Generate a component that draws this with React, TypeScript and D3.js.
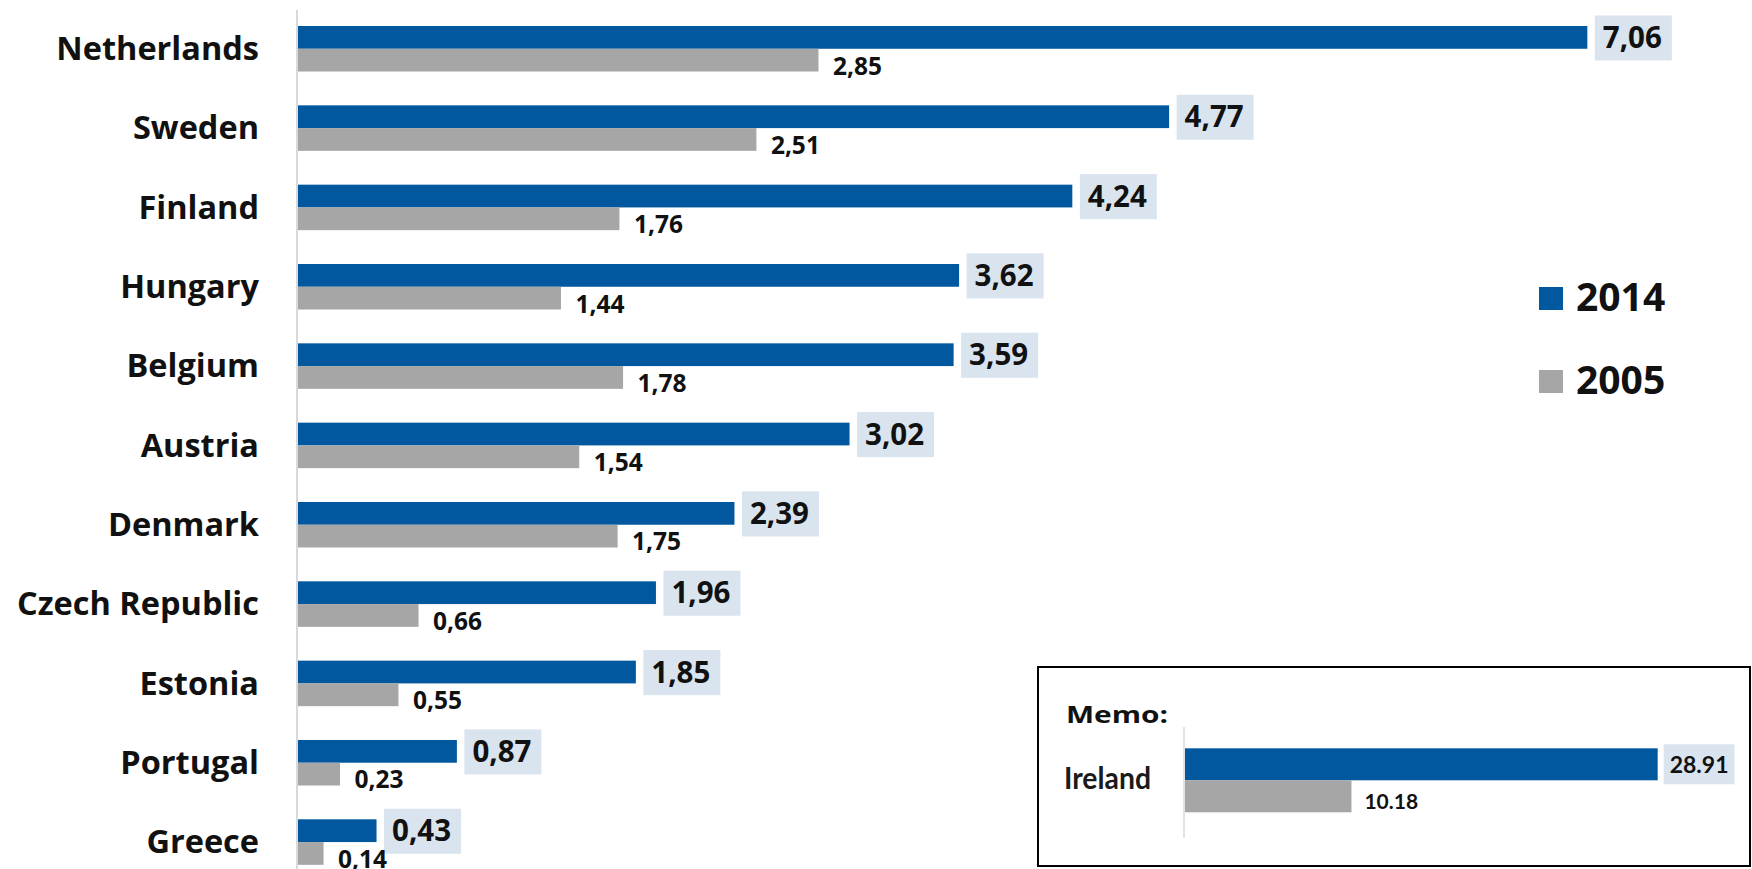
import React, { useEffect, useRef } from "react";
import * as d3 from "d3";

const categories = ["Netherlands", "Sweden", "Finland", "Hungary", "Belgium", "Austria", "Denmark", "Czech Republic", "Estonia", "Portugal", "Greece"];
const values2014 = [7.06, 4.77, 4.24, 3.62, 3.59, 3.02, 2.39, 1.96, 1.85, 0.87, 0.43];
const values2005 = [2.85, 2.51, 1.76, 1.44, 1.78, 1.54, 1.75, 0.66, 0.55, 0.23, 0.14];
const seriesNames = ["2014", "2005"];

const memoCategories = ["Ireland"];
const memo2014 = [28.91];
const memo2005 = [10.18];

const W = 1752;
const H = 869;
const BLUE = "#02589e";
const GRAY = "#a6a6a6";
const BOX = "#dae4ef";
const AXIS = "#d9d9d9";
const TXT = "#111111";
const MAIN_FONT = "'Open Sans', 'Noto Sans', sans-serif";
const MEMO_FONT = "Lato, 'Open Sans', sans-serif";

const commaFmt = d3.formatLocale({ decimal: ",", thousands: ".", grouping: [3], currency: ["", ""] }).format(".2f");
const dotFmt = d3.format(".2f");

export default function App() {
  const ref = useRef<SVGSVGElement | null>(null);

  useEffect(() => {
    const svg = d3.select(ref.current);
    svg.selectAll("*").remove();

    // ---------- main chart ----------
    const x = d3.scaleLinear().domain([0, 8]).range([298, 1759]);
    const pi = 0.4264;
    const y = d3.scaleBand<string>().domain(categories).range([9.1, 9.1 + 11 * 79.33]).paddingInner(pi).paddingOuter(pi / 2);
    const sub = d3.scaleBand<string>().domain(seriesNames).range([0, y.bandwidth()]);

    const rows = categories.map((c, i) => ({ c, v14: values2014[i], v05: values2005[i] }));

    // axis line
    svg.append("line")
      .attr("x1", x(0) - 1).attr("x2", x(0) - 1)
      .attr("y1", 10).attr("y2", H)
      .attr("stroke", AXIS).attr("stroke-width", 2);

    const g = svg.append("g");
    const row = g.selectAll("g.row").data(rows).join("g").attr("class", "row")
      .attr("transform", (d) => `translate(0,${y(d.c)})`);

    // category labels
    row.append("text")
      .attr("x", 259)
      .attr("y", y.bandwidth() / 2 + 11.3)
      .attr("text-anchor", "end")
      .attr("font-family", MAIN_FONT)
      .attr("font-weight", 700)
      .attr("font-size", 32.5)
      .attr("fill", TXT)
      .text((d) => d.c);

    // bars
    row.append("rect")
      .attr("x", x(0)).attr("y", sub("2014")!)
      .attr("width", (d) => x(d.v14) - x(0)).attr("height", sub.bandwidth())
      .attr("fill", BLUE);
    row.append("rect")
      .attr("x", x(0)).attr("y", sub("2005")!)
      .attr("width", (d) => x(d.v05) - x(0)).attr("height", sub.bandwidth())
      .attr("fill", GRAY);

    // 2014 labels with boxes
    row.each(function (d) {
      const r = d3.select(this);
      const bx = x(d.v14) + 7.5;
      const by = sub("2014")! - 10.6;
      const bh = sub.bandwidth() + 22.3;
      const rect = r.append("rect").attr("x", bx).attr("y", by).attr("height", bh).attr("fill", BOX);
      const t = r.append("text")
        .attr("x", bx + 8)
        .attr("y", sub("2014")! + sub.bandwidth() / 2 + 10.6)
        .attr("font-family", MAIN_FONT)
        .attr("font-weight", 700)
        .attr("font-size", 29.5)
        .attr("fill", TXT)
        .text(commaFmt(d.v14));
      const w = (t.node() as SVGTextElement).getComputedTextLength();
      rect.attr("width", w + 18);
    });

    // 2005 labels
    row.append("text")
      .attr("x", (d) => x(d.v05) + 14.5)
      .attr("y", sub("2005")! + sub.bandwidth() + 3)
      .attr("font-family", MAIN_FONT)
      .attr("font-weight", 700)
      .attr("font-size", 24.5)
      .attr("fill", TXT)
      .text((d) => commaFmt(d.v05));

    // ---------- legend ----------
    const legendColors = [BLUE, GRAY];
    const legendY = d3.scalePoint<string>().domain(seriesNames).range([287, 370]);
    const lg = svg.append("g").selectAll("g").data(seriesNames).join("g")
      .attr("transform", (d) => `translate(1539,${legendY(d)})`);
    lg.append("rect").attr("width", 24).attr("height", 23).attr("fill", (_d, i) => legendColors[i]);
    lg.append("text")
      .attr("x", 37).attr("y", 23.5)
      .attr("font-family", MAIN_FONT).attr("font-weight", 700).attr("font-size", 39)
      .attr("fill", TXT)
      .text((d) => d);

    // ---------- memo box ----------
    svg.append("rect")
      .attr("x", 1038).attr("y", 667).attr("width", 1750 - 1038).attr("height", 866 - 667)
      .attr("fill", "white").attr("stroke", "#000").attr("stroke-width", 2);

    svg.append("text")
      .attr("x", 1066).attr("y", 722.5)
      .attr("font-family", MAIN_FONT).attr("font-weight", 700).attr("font-size", 24)
      .attr("textLength", 102).attr("lengthAdjust", "spacingAndGlyphs")
      .attr("fill", TXT)
      .text("Memo:");

    const mx = d3.scaleLinear().domain([0, 30]).range([1185, 1185 + 30 * 16.35]);
    const my = d3.scaleBand<string>().domain(memoCategories).range([748.3, 812.3]);
    const msub = d3.scaleBand<string>().domain(seriesNames).range([0, my.bandwidth()]);

    svg.append("line")
      .attr("x1", mx(0) - 1).attr("x2", mx(0) - 1).attr("y1", 727).attr("y2", 838)
      .attr("stroke", AXIS).attr("stroke-width", 1.5);

    const memoRows = memoCategories.map((c, i) => ({ c, v14: memo2014[i], v05: memo2005[i] }));
    const mrow = svg.append("g").selectAll("g").data(memoRows).join("g")
      .attr("transform", (d) => `translate(0,${my(d.c)})`);

    mrow.append("text")
      .attr("x", 1151).attr("y", 789.3 - 748.3)
      .attr("text-anchor", "end")
      .attr("font-family", MEMO_FONT).attr("font-weight", 700).attr("font-size", 30)
      .attr("textLength", 87).attr("lengthAdjust", "spacingAndGlyphs")
      .attr("fill", "#1a1a1a")
      .text((d) => d.c);

    mrow.append("rect")
      .attr("x", mx(0)).attr("y", msub("2014")!)
      .attr("width", (d) => mx(d.v14) - mx(0)).attr("height", msub.bandwidth())
      .attr("fill", BLUE);
    mrow.append("rect")
      .attr("x", mx(0)).attr("y", msub("2005")!)
      .attr("width", (d) => mx(d.v05) - mx(0)).attr("height", msub.bandwidth())
      .attr("fill", GRAY);

    mrow.each(function (d) {
      const r = d3.select(this);
      const bx = mx(d.v14) + 6;
      const by = msub("2014")! - 4;
      const rect = r.append("rect").attr("x", bx).attr("y", by).attr("height", msub.bandwidth() + 8).attr("fill", BOX);
      const t = r.append("text")
        .attr("x", bx + 6)
        .attr("y", msub("2014")! + msub.bandwidth() / 2 + 8.6)
        .attr("font-family", MEMO_FONT).attr("font-weight", 700).attr("font-size", 23)
        .attr("fill", TXT)
        .text(dotFmt(d.v14));
      const w = (t.node() as SVGTextElement).getComputedTextLength();
      rect.attr("width", w + 12);
    });

    mrow.append("text")
      .attr("x", (d) => mx(d.v05) + 13)
      .attr("y", msub("2005")! + msub.bandwidth() - 3)
      .attr("font-family", MEMO_FONT).attr("font-weight", 700).attr("font-size", 21)
      .attr("fill", TXT)
      .text((d) => dotFmt(d.v05));
  }, []);

  return (
    <svg
      ref={ref}
      width={W}
      height={H}
      style={{ position: "absolute", left: 0, top: 0, background: "white" }}
    />
  );
}
